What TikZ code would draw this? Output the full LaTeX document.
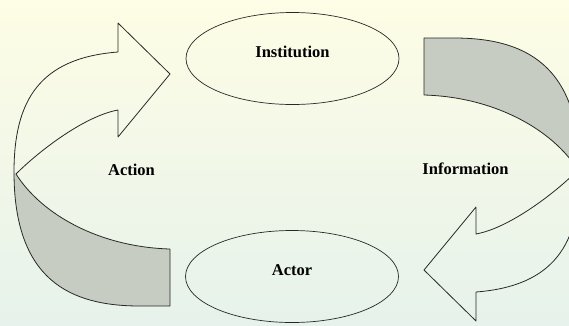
\documentclass[tikz,border=0pt]{standalone}
\usepackage{fontspec}
\setmainfont{Liberation Serif}
\usetikzlibrary{shapes.geometric}

\definecolor{paper}{RGB}{254,253,229}
\definecolor{mint}{RGB}{230,242,235}
\definecolor{band}{RGB}{198,204,193}
\definecolor{ink}{RGB}{40,40,40}

\begin{document}
\begin{tikzpicture}[
  x=1pt, y=-1pt,
  font=\fontsize{16.5}{18}\selectfont\bfseries,
  party/.style={draw=ink, ellipse, line width=0.7pt, minimum width=213pt,
                minimum height=92pt, inner sep=0pt, text height=11pt, text depth=14pt},
  tag/.style={inner sep=1pt},
  ribbon/.style={draw=ink, line width=0.8pt, line join=round},
  back/.style={fill=band}
]
  % page and its margins
  \useasboundingbox (0,0) rectangle (569,325);
  \fill[top color=paper, middle color=paper, bottom color=mint] (0,0) rectangle (569,325);
  \clip (0,0) rectangle (569,325);

  % the two parties
  \node[party] (inst) at (292.5,58.5) {Institution};
  \node[party] (actor) at (292,276.5) {Actor};

  % left ribbon, actor up to institution
  \fill[back] (170,249) .. controls (100,247) and (42,215) .. (16,174)
        -- (14,172) .. controls (14,280) and (70,306) .. (140,306) -- (170,306) -- cycle;
  \path[ribbon] (170,249) .. controls (100,247) and (42,215) .. (16,174)
        .. controls (40,150) and (85,116) .. (118,110)
        -- (118,137) -- (170,74) -- (118,23) -- (118,52)
        .. controls (40,58) and (14,100) .. (14,172)
        .. controls (14,280) and (70,306) .. (140,306) -- (170,306) -- cycle;

  % right ribbon, the same turned half round
  \begin{scope}[rotate around={180:(297,172)}]
    \fill[back] (170,249) .. controls (100,247) and (42,215) .. (16,174)
          -- (14,172) .. controls (14,280) and (70,306) .. (140,306) -- (170,306) -- cycle;
    \path[ribbon] (170,249) .. controls (100,247) and (42,215) .. (16,174)
          .. controls (40,150) and (85,116) .. (118,110)
          -- (118,137) -- (170,74) -- (118,23) -- (118,52)
          .. controls (40,58) and (14,100) .. (14,172)
          .. controls (14,280) and (70,306) .. (140,306) -- (170,306) -- cycle;
  \end{scope}

  % what flows along each ribbon
  \node[tag] (action) at (131.5,170) {Action};
  \node[tag] (info) at (465.5,169) {Information};
\end{tikzpicture}
\end{document}
